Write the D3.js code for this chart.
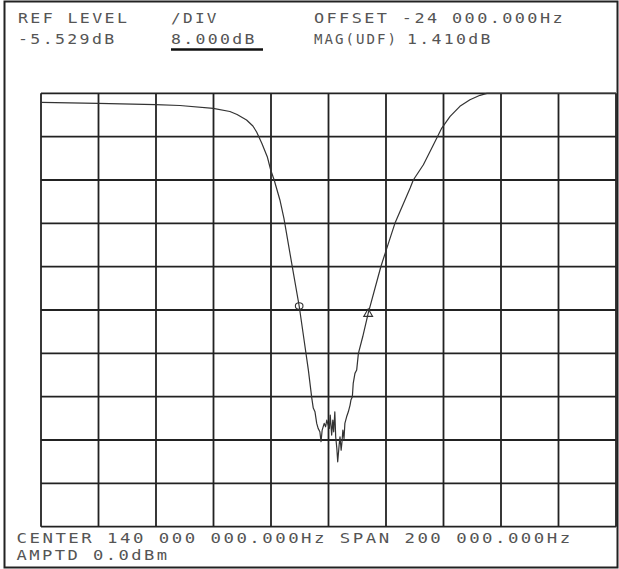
<!DOCTYPE html>
<html>
<head>
<meta charset="utf-8">
<script src="https://cdn.jsdelivr.net/npm/d3@7"></script>
<style>
  body { margin: 0; background: #fff; }
  text { font-family: "DejaVu Sans Mono", monospace; font-size: 14px; fill: #555; letter-spacing: 2px; }
</style>
</head>
<body>
<div id="divplot"></div>
<script>
// instrument settings
var refLevel = -5.529;      // dB
var dbPerDiv = 8;
var centerHz = 140000000;
var spanHz = 200000;

// trace: frequency offset from center (kHz) and magnitude (dB)
var freqKHz = [-100, -80.2, -60.1, -51.7, -40.1, -34.3, -31.8, -28.5, -26.3, -25.0, -23.2, -21.3, -20.1, -18.9,
    -16.9, -15.5, -12.6, -10.2, -8.5, -7.0, -5.8, -5.3, -4.7, -4.1, -3.6, -3.0, -2.6, -2.2, -1.5, -1.0, -0.6,
    -0.1, 0.3, 0.6, 1.1, 1.5, 1.8, 2.2, 2.5, 2.9, 3.2, 3.7, 4.0, 4.4, 4.7, 5.0, 5.4, 5.7, 6.3, 6.9, 7.5, 7.8,
    8.3, 8.6, 9.2, 9.8, 10.4, 11.9, 13.8, 18.2, 19.7, 23.1, 26.6, 28.4, 29.5, 33.0, 36.5, 39.4, 42.3, 45.7,
    49.2, 52.7, 55.1, 60, 70, 80, 100];
var magDb = [-7.19, -7.38, -7.62, -7.78, -8.30, -8.89, -9.44, -10.46, -11.57, -12.67, -14.76, -17.23, -19.69, -21.54,
    -25.22, -28.60, -37.54, -44.79, -51.07, -56.62, -61.84, -63.63, -64.32, -66.46, -67.38, -68.01, -69.85, -67.69,
    -66.46, -67.08, -65.85, -66.77, -67.38, -64.92, -68.61, -65.85, -68.01, -64.32, -68.93, -71.07, -73.55, -70.46,
    -68.93, -71.39, -69.85, -67.69, -69.22, -66.46, -65.24, -64.32, -63.08, -62.15, -61.55, -59.07, -57.23, -56.62,
    -53.53, -50.47, -46.15, -37.54, -35.07, -29.53, -25.22, -23.01, -21.54, -18.71, -15.02, -11.94, -9.78, -7.93,
    -6.71, -5.90, -5.53, -5.2, -4.9, -4.8, -4.7];

// markers (o and triangle) on the trace
var markerKHz = [-10.2, 13.8];
var markerDb = [-44.79, -46.15];
var markerShape = ['circle', 'triangle'];

// annotation texts
var headerRow1 = ['REF LEVEL', '/DIV', 'OFFSET -24 000.000Hz'];
var headerRow2 = ['-5.529dB', '8.000dB', 'MAG(UDF)', '1.410dB'];
var footerTexts = ['CENTER 140 000 000.000Hz SPAN 200 000.000Hz', 'AMPTD 0.0dBm'];

var width = 619, height = 569;
var margin = {top: 93.3, right: 3, bottom: 42.3, left: 41};

var svg = d3.select('#divplot')
    .append('svg')
    .attr('width', width)
    .attr('height', height);

// outer frame of the plot sheet
svg.append('rect')
    .attr('x', 4.5).attr('y', 1.5)
    .attr('width', 613).attr('height', 566)
    .attr('fill', 'none')
    .attr('stroke', '#222')
    .attr('stroke-width', 2);

var x = d3.scaleLinear()
    .domain([-100, 100])
    .range([margin.left, width - margin.right]);

var y = d3.scaleLinear()
    .domain([refLevel - 10 * dbPerDiv, refLevel])
    .range([height - margin.bottom, margin.top])
    .clamp(true);

var g = svg.append('g').attr('class', 'grid');

g.selectAll('line.v')
    .data(d3.range(-100, 101, 20))
    .enter()
    .append('line')
    .attr('class', 'v')
    .attr('x1', x).attr('x2', x)
    .attr('y1', y.range()[0]).attr('y2', y.range()[1])
    .attr('stroke', '#222')
    .attr('stroke-width', 1.8);

g.selectAll('line.h')
    .data(d3.range(0, 11).map(function (k) { return refLevel - k * dbPerDiv; }))
    .enter()
    .append('line')
    .attr('class', 'h')
    .attr('x1', x.range()[0]).attr('x2', x.range()[1])
    .attr('y1', y).attr('y2', y)
    .attr('stroke', '#222')
    .attr('stroke-width', 1.8);

// trace
var trace = freqKHz.map(function (f, i) { return [f, magDb[i]]; });

var line = d3.line()
    .x(function (d) { return x(d[0]); })
    .y(function (d) { return y(d[1]); });

svg.append('path')
    .datum(trace)
    .attr('d', line)
    .attr('fill', 'none')
    .attr('stroke', '#333')
    .attr('stroke-width', 1.2)
    .attr('stroke-linejoin', 'round');

// markers
markerKHz.forEach(function (f, i) {
    var cx = x(f), cy = y(markerDb[i]);
    if (markerShape[i] == 'circle') {
        svg.append('ellipse')
            .attr('cx', cx).attr('cy', cy)
            .attr('rx', 3.8).attr('ry', 3.2)
            .attr('fill', 'none')
            .attr('stroke', '#333')
            .attr('stroke-width', 1.1);
    } else {
        svg.append('path')
            .attr('d', d3.symbol().type(d3.symbolTriangle).size(34))
            .attr('transform', 'translate(' + cx + ',' + (cy + 0.5) + ')')
            .attr('fill', 'none')
            .attr('stroke', '#333')
            .attr('stroke-width', 1.1);
    }
});

// plotter-like stretched text
function plotText(sel, charW) {
    sel.attr('lengthAdjust', 'spacingAndGlyphs')
        .attr('textLength', function (d) {
            return d == 'MAG(UDF)' ? 84 : d.length * charW - 3;
        })
        .text(function (d) { return d; });
}

// header
var row1X = [18, 171, 314];
var row2X = [18, 171, 314, 407];

svg.selectAll('text.h1')
    .data(headerRow1)
    .enter()
    .append('text')
    .attr('class', 'h1')
    .attr('x', function (d, i) { return row1X[i]; })
    .attr('y', 22.5)
    .call(plotText, 12.7);

svg.selectAll('text.h2')
    .data(headerRow2)
    .enter()
    .append('text')
    .attr('class', 'h2')
    .attr('x', function (d, i) { return row2X[i]; })
    .attr('y', 43.5)
    .call(plotText, 12.7);

// underline of active entry
svg.append('line')
    .attr('x1', 171).attr('x2', 263)
    .attr('y1', 49.5).attr('y2', 49.5)
    .attr('stroke', '#111')
    .attr('stroke-width', 2.5);

// footer
svg.selectAll('text.footer')
    .data(footerTexts)
    .enter()
    .append('text')
    .attr('class', 'footer')
    .attr('x', 16.6)
    .attr('y', function (d, i) { return [542.5, 559.5][i]; })
    .call(plotText, 13.0);
</script>
</body>
</html>
